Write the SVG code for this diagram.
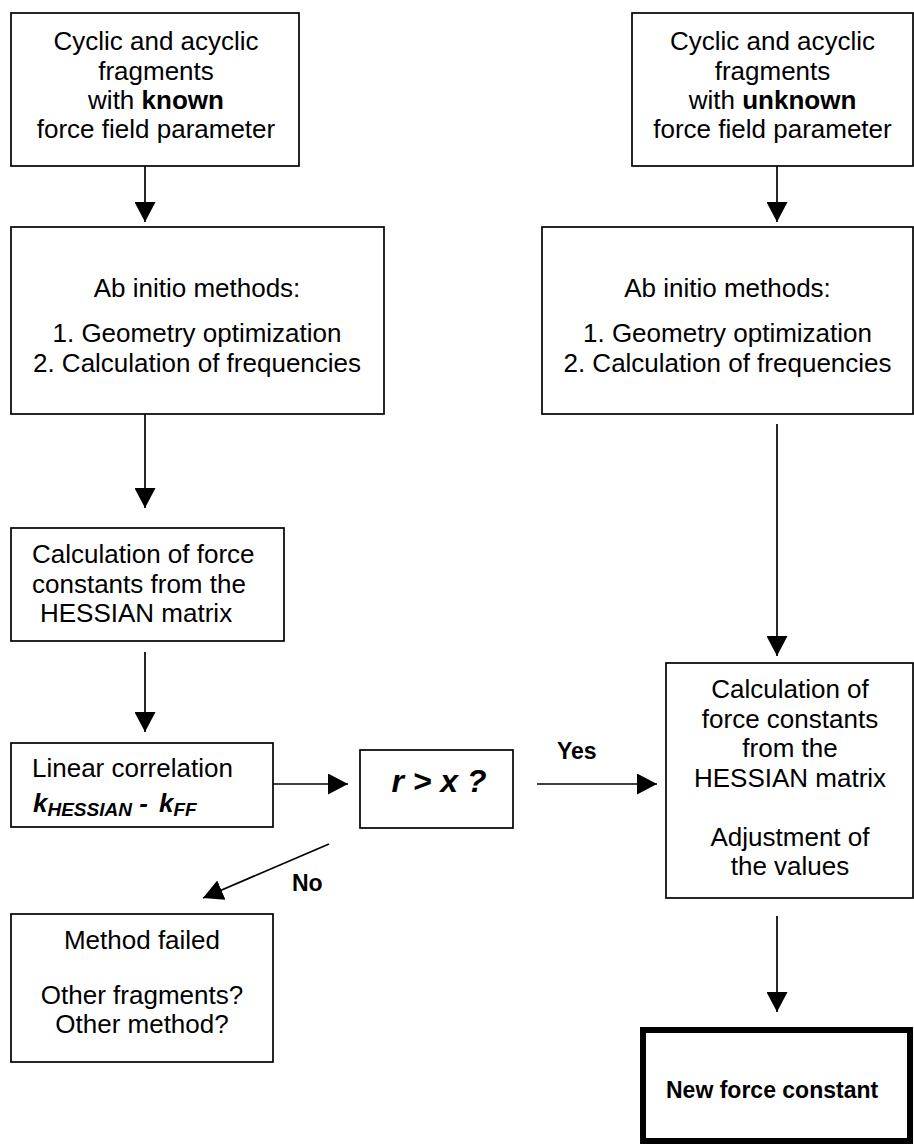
<svg xmlns="http://www.w3.org/2000/svg" width="914" height="1144" viewBox="0 0 914 1144">
<style>
.box{fill:#fff;stroke:#000;stroke-width:1.7}
.thick{fill:#fff;stroke:#000;stroke-width:6}
.t{font-family:"Liberation Sans",Arial,sans-serif;font-size:26px;fill:#000}
.c{text-anchor:middle}
.b{font-weight:bold}
.bi{font-weight:bold;font-style:italic}
.big{font-size:32px}
.sub{font-size:19px}
.lbl{font-family:"Liberation Sans",Arial,sans-serif;font-size:23px;font-weight:bold;fill:#000}
.conn{stroke:#000;stroke-width:1.7;fill:none;marker-end:url(#ah)}
</style>
<defs>
<marker id="ah" markerUnits="userSpaceOnUse" markerWidth="20" markerHeight="21" refX="20" refY="10.5" orient="auto">
<path d="M0,0 L20,10.5 L0,21 z" fill="#000"/>
</marker>
</defs>
<rect width="914" height="1144" fill="#fff"/>
<g id="connectors">
<line class="conn" x1="145" y1="166" x2="145" y2="222"/>
<line class="conn" x1="777" y1="166" x2="777" y2="222"/>
<line class="conn" x1="145" y1="414" x2="145" y2="508"/>
<line class="conn" x1="777" y1="424" x2="777" y2="656"/>
<line class="conn" x1="145" y1="652" x2="145" y2="732"/>
<line class="conn" x1="273" y1="784" x2="348" y2="784"/>
<line class="conn" x1="537" y1="784" x2="657" y2="784"/>
<line class="conn" x1="329" y1="844" x2="203" y2="898"/>
<line class="conn" x1="777" y1="916" x2="777" y2="1012"/>
<text class="lbl" x="557" y="759">Yes</text>
<text class="lbl" x="292" y="891">No</text>
</g>
<g id="known">
<rect class="box" x="11" y="13" width="288" height="153"/>
<text class="t c" x="156" y="50">Cyclic and acyclic</text>
<text class="t c" x="156" y="79.5">fragments</text>
<text class="t c" x="156" y="109">with <tspan class="b">known</tspan></text>
<text class="t c" x="156" y="138">force field parameter</text>
</g>
<g id="unknown">
<rect class="box" x="632" y="13" width="281" height="153"/>
<text class="t c" x="772.5" y="50">Cyclic and acyclic</text>
<text class="t c" x="772.5" y="79.5">fragments</text>
<text class="t c" x="772.5" y="109">with <tspan class="b">unknown</tspan></text>
<text class="t c" x="772.5" y="138">force field parameter</text>
</g>
<g id="abinitio-left">
<rect class="box" x="11" y="227" width="373" height="187"/>
<text class="t c" x="197" y="297">Ab initio methods:</text>
<text class="t c" x="197" y="342">1. Geometry optimization</text>
<text class="t c" x="197" y="371.5">2. Calculation of frequencies</text>
</g>
<g id="abinitio-right">
<rect class="box" x="542" y="227" width="371" height="187"/>
<text class="t c" x="727.5" y="297">Ab initio methods:</text>
<text class="t c" x="727.5" y="342">1. Geometry optimization</text>
<text class="t c" x="727.5" y="371.5">2. Calculation of frequencies</text>
</g>
<g id="hessian-left">
<rect class="box" x="11" y="528" width="273" height="113"/>
<text class="t" x="32" y="563">Calculation of force</text>
<text class="t" x="32" y="593">constants from the</text>
<text class="t" x="40" y="622">HESSIAN matrix</text>
</g>
<g id="correlation">
<rect class="box" x="11" y="743" width="262" height="84"/>
<text class="t" x="32" y="777">Linear correlation</text>
<text class="t bi" x="33" y="812">k<tspan class="sub" dy="4">HESSIAN</tspan><tspan dy="-4"> - </tspan><tspan x="159">k</tspan><tspan class="sub" dy="4">FF</tspan></text>
</g>
<g id="decision">
<rect class="box" x="360" y="750" width="153" height="78"/>
<text class="t bi c big" x="439" y="792">r &gt; x ?</text>
</g>
<g id="hessian-right">
<rect class="box" x="666" y="663" width="247" height="235"/>
<text class="t c" x="790" y="698">Calculation of</text>
<text class="t c" x="790" y="727.5">force constants</text>
<text class="t c" x="790" y="757">from the</text>
<text class="t c" x="790" y="786.5">HESSIAN matrix</text>
<text class="t c" x="790" y="845.5">Adjustment of</text>
<text class="t c" x="790" y="875">the values</text>
</g>
<g id="failed">
<rect class="box" x="11" y="914" width="262" height="148"/>
<text class="t c" x="142" y="949">Method failed</text>
<text class="t c" x="142" y="1004">Other fragments?</text>
<text class="t c" x="142" y="1033">Other method?</text>
</g>
<g id="result">
<rect class="thick" x="643" y="1030" width="267" height="111"/>
<text class="lbl" x="666" y="1098">New force constant</text>
</g>
</svg>
